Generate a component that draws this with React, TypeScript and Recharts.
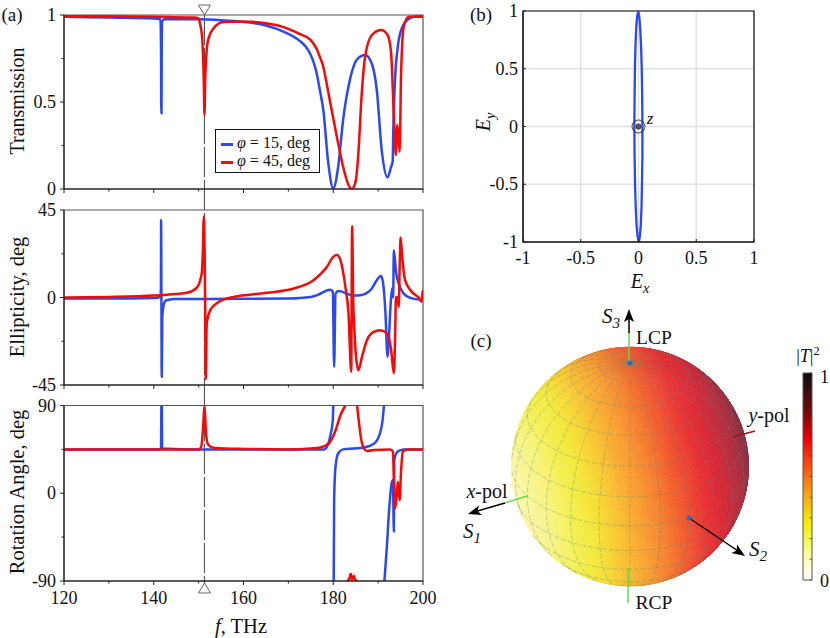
import React from "react";
import {
  Bar,
  BarChart,
  CartesianGrid,
  ComposedChart,
  Line,
  LineChart,
  ReferenceArea,
  ReferenceDot,
  Scatter,
  ScatterChart,
  XAxis,
  YAxis,
} from "recharts";

const SERIF = "'Liberation Serif', serif";
const BLUE = "#2b49f0";
const RED = "#f50a0a";

// (a) frequency axis
const freqTicks = [120, 130, 140, 150, 160, 170, 180, 190, 200];
const markerFreq = 151.3;
const markerSpan = [15, 584];

// transmission
const transTicks = [0, 0.25, 0.5, 0.75, 1];
const transBlueF = [120, 130, 140, 141.5, 141.62, 141.68, 141.72, 141.78, 141.9, 142.5, 150, 155, 160, 165, 168.9, 172.6, 173.8, 174.8, 175.6, 176.3, 177, 177.8, 178.9, 180, 181.1, 182.2, 183.7, 185.2, 187.1, 188.6, 189.7, 190.8, 192.1, 192.9, 193.25, 193.35, 193.8, 194.3, 195.3, 197.2, 199.3, 200];
const transBlueV = [0.99, 0.985, 0.98, 0.975, 0.8, 0.436, 0.436, 0.85, 0.965, 0.975, 0.975, 0.97, 0.96, 0.94, 0.905, 0.85, 0.82, 0.78, 0.73, 0.665, 0.57, 0.45, 0.147, 0.004, 0.128, 0.397, 0.626, 0.741, 0.77, 0.72, 0.569, 0.224, 0.067, 0.128, 0.16, 0.3, 0.645, 0.8, 0.925, 0.983, 0.995, 0.995];
const transRedF = [120, 140, 149, 150, 150.3, 150.75, 151.15, 151.3, 151.5, 152.1, 153.3, 155.5, 160, 165, 168.9, 170.5, 172.6, 174.8, 175.6, 176.3, 177, 177.8, 178.5, 179.3, 180.8, 182.2, 183.4, 184.1, 184.9, 185.6, 186.3, 187.1, 188.6, 190.7, 192.1, 192.9, 193.3, 193.7, 193.9, 194.3, 194.8, 195.1, 195.7, 196.8, 200];
const transRedV = [0.995, 0.99, 0.985, 0.98, 0.95, 0.88, 0.62, 0.426, 0.66, 0.857, 0.923, 0.96, 0.963, 0.952, 0.93, 0.915, 0.89, 0.86, 0.835, 0.805, 0.76, 0.7, 0.61, 0.5, 0.3, 0.128, 0.023, 0, 0.034, 0.205, 0.53, 0.76, 0.885, 0.914, 0.885, 0.78, 0.55, 0.3, 0.195, 0.368, 0.214, 0.645, 0.933, 0.99, 0.99];

// ellipticity
const elliTicks = [-45, -22.5, 0, 22.5, 45];
const elliBlueF = [120, 135, 140, 141, 141.5, 141.6, 141.64, 141.78, 141.9, 142.2, 142.7, 145, 160, 170, 175, 176.4, 179.3, 179.9, 180.2, 180.5, 181.2, 183, 184.5, 186, 188.3, 189.7, 190.6, 191, 191.6, 192.1, 192.3, 192.9, 193.2, 193.35, 193.5, 194, 194.6, 195.7, 197.2, 200];
const elliBlueV = [-0.5, -0.5, -0.3, 0, 1, 5, 39.8, -40.8, -10, -4, -1.5, -0.8, -0.7, -0.5, 0.3, 1.2, 4, 3, -35.7, 2, 3.4, 2, 1, 1.2, 3.8, 8.9, 11.1, 8.9, -6.5, -30.5, -25, 0.3, 5, 0, 24.3, 13, 7, 2, -0.2, -1.3];
const elliRedF = [120, 130, 140, 145, 147.4, 149.6, 150.7, 150.95, 151.15, 151.45, 151.6, 151.8, 152.6, 154, 156.3, 157.8, 165.2, 171.2, 175.6, 178.6, 180, 180.8, 181.6, 182.7, 183.4, 184, 184.2, 184.5, 185.6, 186.4, 187.5, 189, 190.5, 192, 192.9, 193.5, 193.8, 193.97, 194.35, 194.6, 194.8, 195, 195.3, 196, 197.5, 199, 199.7, 199.9, 200];
const elliRedV = [0, 0.3, 1, 1.8, 2.4, 5.1, 12.5, 24, 41.5, 0.3, -42, -13.4, -6.5, -3, -0.5, 0.3, 2.4, 4.6, 8.9, 15.8, 20.9, 21.8, 19.2, 5.5, -8.2, -38.2, 36.7, -6.5, -37.4, -30.5, -22, -17.7, -16.8, -18.5, -27, -39, -18.5, 0.3, 0.3, -4.8, 15.8, 30.9, 22.6, 8.9, 2.9, 0, -2.2, 3.4, -1];

// rotation angle, null breaks the curve where it wraps at +-90
const rotTicks = [-90, -45, 0, 45, 90];
const rotBlueF = [120, 141.6, 141.7, 141.75, 141.8, 141.85, 150, 170, 178, 178.5, 179.3, 179.9, 180, 180.05, 180.1, 180.2, 180.5, 181.1, 182.2, 184.4, 186.8, 189.1, 190.3, 191, 191.3, 191.35, 191.4, 191.9, 192.5, 193, 193.3, 193.5, 193.6, 194.3, 195.7, 200];
const rotBlueV = [45, 45, 90, null, 90, 46, 45, 45, 45, 47, 58, 75, 90, null, -90, -7, 27, 41, 45, 46, 47, 51, 60, 75, 90, null, -90, -58, -14, 10, 13.6, -39, 34, 42.6, 45, 45];
const rotRedF = [120, 150, 150.6, 151, 151.3, 151.6, 152, 152.7, 153.6, 160, 170, 175, 177.1, 179, 180.4, 181.6, 182.7, 183, 185.3, 185.7, 186.2, 186.8, 187.5, 189, 192.7, 193.3, 193.5, 193.8, 194.2, 194.4, 194.8, 195.1, 195.5, 196.4, 200];
const rotRedV = [45, 45, 48, 68, 90, 65, 51, 47.5, 46.5, 45.5, 45, 46, 47, 51, 63, 80, 90, null, 90, 74, 56, 46, 43.4, 44.4, 45, 42.7, 15, -15.6, 1.5, 11.8, -7, 22, 42.7, 45, 45];
const rotWiggleF = [183.1, 183.6, 183.9, 184.2, 184.6, 184.9, 185.4];
const rotWiggleV = [-90, -87.5, -82, -88, -85.5, -89, -90];

// (b) polarization ellipse
const unitTicks = [-1, -0.5, 0, 0.5, 1];
const ellipseX = [0.003, 0.012, 0.02, 0.026, 0.03, 0.034, 0.034, 0.032, 0.028, 0.022, 0.015, 0.007, -0.002, -0.012, -0.02, -0.026, -0.031, -0.034, -0.036, -0.034, -0.03, -0.024, -0.017, -0.008, 0.003];
const ellipseY = [-1, -0.95, -0.85, -0.7, -0.5, -0.25, 0, 0.25, 0.5, 0.7, 0.85, 0.95, 1, 0.95, 0.85, 0.7, 0.5, 0.25, 0, -0.25, -0.5, -0.7, -0.85, -0.95, -1];

// (c) Poincare sphere as seen in the picture: screen directions (right, up, towards viewer)
const sphereCenter = [630, 466.5];
const sphereRadius = 118;
const axisS1 = [-0.87, -0.25, 0.42];
const axisS2 = [0.5, -0.435, 0.75];
const axisS3 = [0, 0.877, 0.48];
const toneMid = 0.49;
const toneSlope = [0.38, 0.105, -0.06];
// colour of each 0.05 step of |T|^2 on the sphere
const bandColors = ["#fdfbc8", "#fcf9bc", "#faf6a0", "#f7f37c", "#f3f055", "#f3ea3c", "#f6d834", "#f8c032", "#f8a830", "#f79230", "#f57a2e", "#f2602e", "#ee4830", "#e83032", "#de2834", "#c82838", "#ae2c3c", "#962c40", "#802c40"];

// axis stubs in page pixels [x1, y1, x2, y2, colour]
const stubs: [number, number, number, number, string][] = [
  [629, 363, 629, 333, "#5ee04a"],
  [629, 333, 629, 313, "#000"],
  [628, 568, 628, 603, "#5ee04a"],
  [527, 496, 505, 503, "#5ee04a"],
  [505, 503, 474, 512, "#000"],
  [733, 437, 755, 431, "#8c1c1c"],
  [689, 518, 741, 553, "#000"],
];
const arrowTips = [
  { px: 629, py: 309, angle: -90 },
  { px: 468, py: 514, angle: 163 },
  { px: 745, py: 556, angle: 34 },
];
const poleDots = [
  { px: 630, py: 363 },
  { px: 689, py: 518 },
];

// colour bar
const barTicks = [0, 0.1, 0.2, 0.3, 0.4, 0.5, 0.6, 0.7, 0.8, 0.9, 1];
const barStops = [
  ["0%", "#ffffff"],
  ["12%", "#fbfba0"],
  ["27%", "#f2f000"],
  ["42%", "#fba010"],
  ["60%", "#f83010"],
  ["68%", "#f00000"],
  ["82%", "#700808"],
  ["100%", "#0c0c10"],
];

const toRows = (f: number[], v: (number | null)[]) => f.map((x, i) => ({ f: x, v: v[i] }));
const ux = (px: number) => (px - sphereCenter[0]) / sphereRadius;
const uy = (py: number) => (sphereCenter[1] - py) / sphereRadius;

function spherePoint(latDeg: number, lonDeg: number) {
  const lat = (latDeg * Math.PI) / 180;
  const lon = (lonDeg * Math.PI) / 180;
  const s = [Math.cos(lat) * Math.cos(lon), Math.cos(lat) * Math.sin(lon), Math.sin(lat)];
  return [0, 1, 2].map((k) => s[0] * axisS1[k] + s[1] * axisS2[k] + s[2] * axisS3[k]);
}

// half steps between the read colours keep the band edges from looking jagged
function toneColor(tone: number) {
  const pos = Math.max(0, Math.min(bandColors.length - 1.01, tone / 0.05));
  const i = Math.floor(pos);
  const t = Math.floor((pos - i) * 4) / 4;
  const rgb = (h: string) => [1, 3, 5].map((k) => parseInt(h.slice(k, k + 2), 16));
  const a = rgb(bandColors[i]);
  const b = rgb(bandColors[i + 1]);
  return `rgb(${a.map((c, k) => Math.round(c + (b[k] - c) * t)).join(",")})`;
}

function buildCells() {
  const cells: any[] = [];
  const step = 2;
  for (let lat = -90; lat < 90; lat += step) {
    for (let lon = 0; lon < 360; lon += step) {
      const c = spherePoint(lat + step / 2, lon + step / 2);
      if (c[2] < -0.05) continue;
      const corners = [
        spherePoint(lat, lon),
        spherePoint(lat, lon + step),
        spherePoint(lat + step, lon + step),
        spherePoint(lat + step, lon),
      ];
      const tone = toneMid + c[0] * toneSlope[0] + c[1] * toneSlope[1] + c[2] * toneSlope[2];
      cells.push({
        x: c[0],
        y: c[1],
        color: toneColor(tone),
        poly: corners.map((p) => [p[0] - c[0], p[1] - c[1]]),
      });
    }
  }
  return cells;
}

function buildGrid() {
  const rows: { x: number; y: number | null }[] = [];
  const push = (p: number[]) => rows.push({ x: p[0], y: p[2] >= 0 ? p[1] : null });
  for (let lat = -75; lat <= 75; lat += 15) {
    for (let lon = 0; lon <= 360; lon += 5) push(spherePoint(lat, lon));
    rows.push({ x: 0, y: null });
  }
  for (let lon = 0; lon < 360; lon += 15) {
    for (let lat = -90; lat <= 90; lat += 5) push(spherePoint(lat, lon));
    rows.push({ x: 0, y: null });
  }
  return rows;
}

const sphereCells = buildCells();
const sphereGrid = buildGrid();

const CellShape = (props: any) => {
  const { cx, cy, payload } = props;
  const pts = payload.poly
    .map((p: number[]) => `${cx + p[0] * sphereRadius},${cy - p[1] * sphereRadius}`)
    .join(" ");
  return <polygon points={pts} fill={payload.color} stroke={payload.color} strokeWidth={0.6} />;
};

const ArrowShape = (props: any) => {
  const { cx, cy, payload } = props;
  return (
    <polygon
      points="0,0 -13,-5 -10,0 -13,5"
      transform={`translate(${cx},${cy}) rotate(${payload.angle})`}
      fill="#000"
    />
  );
};

const DotShape = (props: any) => <circle cx={props.cx} cy={props.cy} r={2.5} fill="#2a6cc4" />;

// ticks: long with a number on the majors, short and bare on the others
const xTick = (majors: number[], showLabel: boolean) => (props: any) => {
  const { x, y, payload } = props;
  const major = majors.includes(payload.value);
  return (
    <g>
      <line x1={x} x2={x} y1={y} y2={y + (major ? 4 : 2.5)} stroke="#222" />
      {showLabel && major && (
        <text x={x} y={y + 23} textAnchor="middle" fontFamily={SERIF} fontSize={18} fill="#111">
          {payload.value}
        </text>
      )}
    </g>
  );
};

const yTick = (majors: number[]) => (props: any) => {
  const { x, y, payload } = props;
  const major = majors.includes(payload.value);
  return (
    <g>
      <line x1={x} x2={x - (major ? 4 : 2.5)} y1={y} y2={y} stroke="#222" />
      {major && (
        <text x={x - 8} y={y + 6} textAnchor="end" fontFamily={SERIF} fontSize={18} fill="#111">
          {payload.value}
        </text>
      )}
    </g>
  );
};

const unitXTick = (props: any) => (
  <g>
    <line x1={props.x} x2={props.x} y1={props.y} y2={props.y - 3} stroke="#222" />
    <text x={props.x} y={props.y + 22} textAnchor="middle" fontFamily={SERIF} fontSize={18} fill="#111">
      {props.payload.value}
    </text>
  </g>
);

const unitYTick = (props: any) => (
  <g>
    <line x1={props.x} x2={props.x + 3} y1={props.y} y2={props.y} stroke="#222" />
    <text x={props.x - 5} y={props.y + 6} textAnchor="end" fontFamily={SERIF} fontSize={18} fill="#111">
      {props.payload.value}
    </text>
  </g>
);

const barTick = (props: any) => {
  const { x, y, payload } = props;
  const end = payload.value === 0 || payload.value === 1;
  return (
    <g>
      <line x1={x} x2={x - 2.5} y1={y} y2={y} stroke="#333" strokeWidth={0.7} />
      {end && (
        <text x={x + 8} y={y + (payload.value === 1 ? 10 : 7)} fontFamily={SERIF} fontSize={18} fill="#111">
          {payload.value}
        </text>
      )}
    </g>
  );
};

const Txt = ({ x, y, size = 18, rotate, children }: any) => (
  <div
    style={{
      position: "absolute",
      left: x,
      top: y,
      transform: `translate(-50%,-50%)${rotate ? ` rotate(${rotate}deg)` : ""}`,
      fontSize: size,
      fontFamily: SERIF,
      color: "#111",
      whiteSpace: "nowrap",
      lineHeight: 1,
    }}
  >
    {children}
  </div>
);

const Sub = ({ children }: any) => <sub style={{ fontSize: "0.72em", lineHeight: 0 }}>{children}</sub>;

type PanelProps = {
  top: number;
  height: number;
  marginTop: number;
  axisHeight: number;
  domain: number[];
  ticks: number[];
  majors: number[];
  showLabels?: boolean;
  blue: { f: number; v: number | null }[];
  red: { f: number; v: number | null }[];
  extraRed?: { f: number; v: number | null }[];
};

function Panel({ top, height, marginTop, axisHeight, domain, ticks, majors, showLabels, blue, red, extraRed }: PanelProps) {
  return (
    <div style={{ position: "absolute", left: 0, top }}>
      <LineChart width={440} height={height} margin={{ top: marginTop, right: 17, left: 0, bottom: 0 }}>
        <ReferenceArea x1={120} x2={200} y1={domain[0]} y2={domain[1]} fill="none" stroke="#555" strokeWidth={1.2} />
        <XAxis
          type="number"
          dataKey="f"
          domain={[120, 200]}
          ticks={freqTicks}
          interval={0}
          height={axisHeight}
          tickSize={0}
          tickMargin={0}
          tick={xTick([120, 140, 160, 180, 200], !!showLabels)}
          stroke="#111"
          allowDataOverflow
        />
        <YAxis
          type="number"
          domain={domain}
          ticks={ticks}
          interval={0}
          width={64}
          tickSize={0}
          tickMargin={0}
          tick={yTick(majors)}
          stroke="#111"
          allowDataOverflow
        />
        <Line data={blue} dataKey="v" type="monotone" stroke={BLUE} strokeWidth={2.5} dot={false} isAnimationActive={false} />
        <Line data={red} dataKey="v" type="monotone" stroke={RED} strokeWidth={2.5} dot={false} isAnimationActive={false} />
        {extraRed && (
          <Line data={extraRed} dataKey="v" type="linear" stroke={RED} strokeWidth={2.5} dot={false} isAnimationActive={false} />
        )}
      </LineChart>
    </div>
  );
}

export default function App() {
  const ellipseRows = ellipseX.map((ex, i) => ({ ex, ey: ellipseY[i] }));
  const tips = arrowTips.map((a) => ({ x: ux(a.px), y: uy(a.py), angle: a.angle }));
  const dots = poleDots.map((d) => ({ x: ux(d.px), y: uy(d.py) }));
  const markerRows = markerSpan.map((y) => ({ f: markerFreq, y }));

  return (
    <div style={{ position: "absolute", left: 0, top: 0, width: 830, height: 638, background: "#fff", overflow: "hidden" }}>
      {/* dashed marker through the three stacked panels */}
      <div style={{ position: "absolute", left: 0, top: 0 }}>
        <LineChart width={440} height={638} margin={{ top: 0, right: 17, left: 64, bottom: 0 }}>
          <XAxis hide type="number" dataKey="f" domain={[120, 200]} allowDataOverflow />
          <YAxis hide type="number" domain={[0, 638]} reversed allowDataOverflow />
          <Line
            data={markerRows}
            dataKey="y"
            type="linear"
            stroke="#555"
            strokeWidth={1.1}
            strokeDasharray="30 3"
            dot={false}
            isAnimationActive={false}
          />
          <ReferenceDot
            x={markerFreq}
            y={10}
            shape={(p: any) => (
              <polygon
                points={`${p.cx - 6},${p.cy - 5} ${p.cx + 6},${p.cy - 5} ${p.cx},${p.cy + 5}`}
                fill="#fff"
                stroke="#666"
              />
            )}
          />
          <ReferenceDot
            x={markerFreq}
            y={588}
            shape={(p: any) => (
              <polygon
                points={`${p.cx - 6},${p.cy + 5} ${p.cx + 6},${p.cy + 5} ${p.cx},${p.cy - 5}`}
                fill="#fff"
                stroke="#666"
              />
            )}
          />
        </LineChart>
      </div>

      <Panel
        top={0}
        height={200}
        marginTop={15}
        axisHeight={11}
        domain={[0, 1]}
        ticks={transTicks}
        majors={[0, 0.5, 1]}
        blue={toRows(transBlueF, transBlueV)}
        red={toRows(transRedF, transRedV)}
      />
      <Panel
        top={200}
        height={197}
        marginTop={10}
        axisHeight={12}
        domain={[-45, 45]}
        ticks={elliTicks}
        majors={[-45, 0, 45]}
        blue={toRows(elliBlueF, elliBlueV)}
        red={toRows(elliRedF, elliRedV)}
      />
      <Panel
        top={395}
        height={243}
        marginTop={10.5}
        axisHeight={57}
        domain={[-90, 90]}
        ticks={rotTicks}
        majors={[-90, 0, 90]}
        showLabels
        blue={toRows(rotBlueF, rotBlueV)}
        red={toRows(rotRedF, rotRedV)}
        extraRed={toRows(rotWiggleF, rotWiggleV)}
      />

      {/* legend box */}
      <div style={{ position: "absolute", left: 215, top: 129, width: 103, height: 42, background: "#fff", border: "1px solid #111" }}>
        <div style={{ position: "absolute", left: 5, top: 13, width: 12, height: 2.5, background: BLUE }} />
        <div style={{ position: "absolute", left: 5, top: 31, width: 12, height: 2.5, background: RED }} />
      </div>
      <div style={{ position: "absolute", left: 237, top: 135, fontFamily: SERIF, fontSize: 16, lineHeight: 1, whiteSpace: "nowrap", color: "#111" }}>
        <i>φ</i> = 15, deg
      </div>
      <div style={{ position: "absolute", left: 237, top: 153, fontFamily: SERIF, fontSize: 16, lineHeight: 1, whiteSpace: "nowrap", color: "#111" }}>
        <i>φ</i> = 45, deg
      </div>

      {/* (b) */}
      <div style={{ position: "absolute", left: 470, top: 0 }}>
        <LineChart width={310} height={300} margin={{ top: 11, right: 26, left: 0, bottom: 0 }}>
          <CartesianGrid stroke="#e2e2e2" strokeWidth={1.5} />
          <XAxis
            type="number"
            dataKey="ex"
            domain={[-1, 1]}
            ticks={unitTicks}
            interval={0}
            height={58}
            tickSize={0}
            tickMargin={0}
            tick={unitXTick}
            stroke="#111"
          />
          <YAxis
            type="number"
            domain={[-1, 1]}
            ticks={unitTicks}
            interval={0}
            width={53}
            tickSize={0}
            tickMargin={0}
            tick={unitYTick}
            stroke="#111"
          />
          <ReferenceArea x1={-1} x2={1} y1={-1} y2={1} fill="none" stroke="#111" strokeWidth={1.2} />
          <Line data={ellipseRows} dataKey="ey" type="linear" stroke={BLUE} strokeWidth={2.3} dot={false} isAnimationActive={false} />
          <ReferenceDot
            x={0}
            y={0}
            shape={(p: any) => (
              <g fill="none" stroke="#333" strokeWidth={0.9}>
                <circle cx={p.cx} cy={p.cy} r={6.5} />
                <circle cx={p.cx} cy={p.cy} r={2.6} fill="#556" />
              </g>
            )}
          />
        </LineChart>
      </div>

      {/* (c) sphere surface */}
      <div style={{ position: "absolute", left: 450, top: 300 }}>
        <ScatterChart width={340} height={338} margin={{ top: 0, right: 0, left: 0, bottom: 0 }}>
          <XAxis hide type="number" dataKey="x" domain={[ux(450), ux(790)]} allowDataOverflow />
          <YAxis hide type="number" dataKey="y" domain={[uy(638), uy(300)]} allowDataOverflow />
          <Scatter data={sphereCells} shape={CellShape} isAnimationActive={false} />
        </ScatterChart>
      </div>

      {/* (c) grid, axes and arrows on top of the surface */}
      <div style={{ position: "absolute", left: 450, top: 300 }}>
        <ComposedChart width={340} height={338} margin={{ top: 0, right: 0, left: 0, bottom: 0 }}>
          <XAxis hide type="number" dataKey="x" domain={[ux(450), ux(790)]} allowDataOverflow />
          <YAxis hide type="number" dataKey="y" domain={[uy(638), uy(300)]} allowDataOverflow />
          <Line
            data={sphereGrid}
            dataKey="y"
            type="linear"
            stroke="#4f8a88"
            strokeOpacity={0.45}
            strokeWidth={0.8}
            strokeDasharray="5 2"
            dot={false}
            isAnimationActive={false}
          />
          {stubs.map((s, i) => (
            <Line
              key={i}
              data={[
                { x: ux(s[0]), y: uy(s[1]) },
                { x: ux(s[2]), y: uy(s[3]) },
              ]}
              dataKey="y"
              type="linear"
              stroke={s[4]}
              strokeWidth={1.5}
              dot={false}
              isAnimationActive={false}
            />
          ))}
          <Scatter data={tips} shape={ArrowShape} isAnimationActive={false} />
          <Scatter data={dots} shape={DotShape} isAnimationActive={false} />
        </ComposedChart>
      </div>

      {/* colour bar */}
      <div style={{ position: "absolute", left: 790, top: 360 }}>
        <BarChart
          width={40}
          height={240}
          data={[{ name: "T", v: 1 }]}
          margin={{ top: 13, right: 0, left: 13, bottom: 20 }}
          barCategoryGap={0}
        >
          <defs>
            <linearGradient id="tGrad" x1="0" y1="1" x2="0" y2="0">
              {barStops.map((s) => (
                <stop key={s[0]} offset={s[0]} stopColor={s[1]} />
              ))}
            </linearGradient>
          </defs>
          <XAxis hide dataKey="name" />
          <YAxis
            orientation="right"
            type="number"
            domain={[0, 1]}
            ticks={barTicks}
            interval={0}
            width={18}
            axisLine={false}
            tickSize={0}
            tickMargin={0}
            tick={barTick}
          />
          <Bar dataKey="v" fill="url(#tGrad)" stroke="#555" isAnimationActive={false} />
        </BarChart>
      </div>

      {/* text */}
      <Txt x={12} y={14} size={19}>(a)</Txt>
      <Txt x={481} y={14} size={19}>(b)</Txt>
      <Txt x={481} y={340} size={19}>(c)</Txt>
      <Txt x={17} y={101} size={20} rotate={-90}>Transmission</Txt>
      <Txt x={17} y={297} size={20.5} rotate={-90}>Ellipticity, deg</Txt>
      <Txt x={17} y={492} size={20.5} rotate={-90}>Rotation Angle, deg</Txt>
      <Txt x={241} y={626} size={20.5}><i>f</i>, THz</Txt>
      <Txt x={640} y={281} size={20}><i>E<Sub>x</Sub></i></Txt>
      <Txt x={483} y={122} size={20} rotate={-90}><i>E<Sub>y</Sub></i></Txt>
      <Txt x={650} y={118} size={17}><i>z</i></Txt>
      <Txt x={611} y={316} size={21}><i>S<Sub>3</Sub></i></Txt>
      <Txt x={654} y={338} size={19.5}>LCP</Txt>
      <Txt x={654} y={603} size={19.5}>RCP</Txt>
      <Txt x={487} y={491} size={20}><i>x</i>-pol</Txt>
      <Txt x={472} y={531} size={21}><i>S<Sub>1</Sub></i></Txt>
      <Txt x={769} y={415} size={20}><i>y</i>-pol</Txt>
      <Txt x={758} y={549} size={21}><i>S<Sub>2</Sub></i></Txt>
      <Txt x={808} y={356} size={18}>|<i>T</i>|<sup style={{ fontSize: "0.7em", lineHeight: 0 }}>2</sup></Txt>
    </div>
  );
}
